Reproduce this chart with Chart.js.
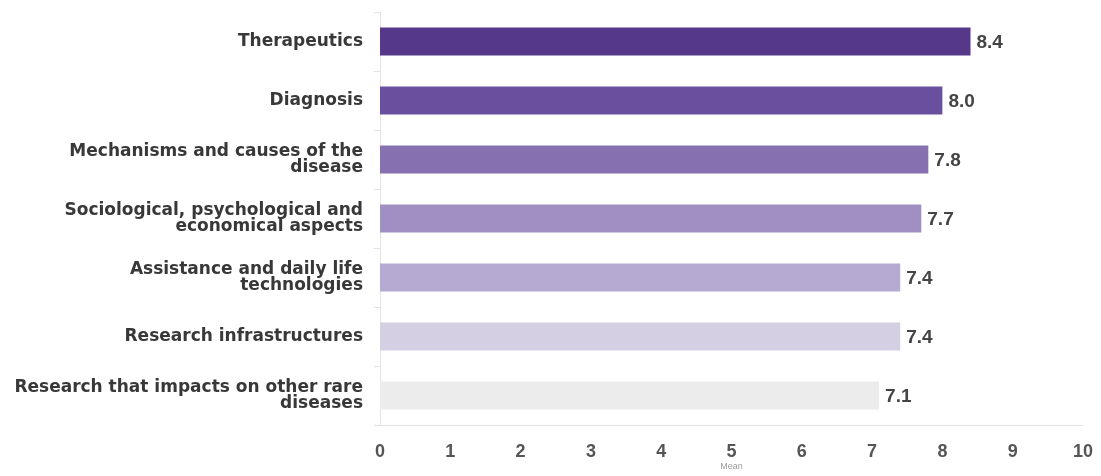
<!DOCTYPE html>
<html>
<head>
<meta charset="utf-8">
<script src="https://cdn.jsdelivr.net/npm/chart.js@4.4.1/dist/chart.umd.min.js"></script>
<style>
  html, body { margin: 0; padding: 0; background: #fff; }
  #wrap { width: 1101px; height: 476px; }
</style>
</head>
<body>
<div id="wrap"><canvas id="myChart"></canvas></div>
<script>
// Data
const categories = [
  "Therapeutics",
  "Diagnosis",
  ["Mechanisms and causes of the", "disease"],
  ["Sociological, psychological and", "economical aspects"],
  ["Assistance and daily life", "technologies"],
  "Research infrastructures",
  ["Research that impacts on other rare", "diseases"]
];
const meanValues = [8.4, 8.0, 7.8, 7.7, 7.4, 7.4, 7.1];
const barColors = ["#55388a", "#6a4f9e", "#8670b0", "#a08fc2", "#b6aad2", "#d4cfe2", "#ececec"];
const xTicks = [0, 1, 2, 3, 4, 5, 6, 7, 8, 9, 10];

const ctx = document.getElementById('myChart');

// value labels at the end of each bar
const valueLabels = {
  id: 'valueLabels',
  afterDatasetsDraw(chart) {
    const c = chart.ctx;
    const meta = chart.getDatasetMeta(0);
    c.save();
    c.font = "bold 19px 'Liberation Sans', Arial, sans-serif";
    c.fillStyle = "#444";
    c.textAlign = "left";
    c.textBaseline = "middle";
    meta.data.forEach(function (bar, i) {
      c.fillText(meanValues[i].toFixed(1), bar.x + 6, bar.y + 1);
    });
    c.restore();
  }
};

new Chart(ctx, {
  type: 'bar',
  data: {
    labels: categories,
    datasets: [{
      label: 'Mean',
      data: meanValues,
      backgroundColor: barColors,
      borderWidth: 0,
      barPercentage: 0.475,
      categoryPercentage: 1
    }]
  },
  options: {
    indexAxis: 'y',
    responsive: true,
    maintainAspectRatio: false,
    animation: false,
    layout: { padding: { top: 12, right: 14, left: 0, bottom: 0 } },
    plugins: {
      legend: { display: false },
      tooltip: { enabled: false }
    },
    scales: {
      x: {
        min: 0,
        max: 10,
        afterBuildTicks(scale) {
          scale.ticks = xTicks.map(function (v) { return { value: v }; });
        },
        afterFit(scale) { scale.height = 51; },
        grid: { display: false },
        border: { display: true, color: "#e3e3e3", width: 1 },
        ticks: {
          padding: 8,
          color: "#555",
          font: { family: "'Liberation Sans', Arial, sans-serif", size: 18, weight: 'bold' }
        },
        title: {
          display: true,
          text: 'Mean',
          color: "#999",
          padding: { top: 0, bottom: 4 },
          font: { family: "'Liberation Sans', Arial, sans-serif", size: 9 }
        }
      },
      y: {
        afterFit(scale) {
          scale.width = 380;
          scale.paddingTop = 0;
          scale.paddingBottom = 0;
        },
        grid: {
          drawOnChartArea: false,
          drawTicks: true,
          tickLength: 6,
          color: "#e3e3e3"
        },
        border: { display: true, color: "#e3e3e3", width: 1 },
        ticks: {
          padding: 11,
          color: "#383838",
          font: { family: "'DejaVu Sans', sans-serif", size: 17, weight: 'bold', lineHeight: 0.9 }
        }
      }
    }
  },
  plugins: [valueLabels]
});
</script>
</body>
</html>
